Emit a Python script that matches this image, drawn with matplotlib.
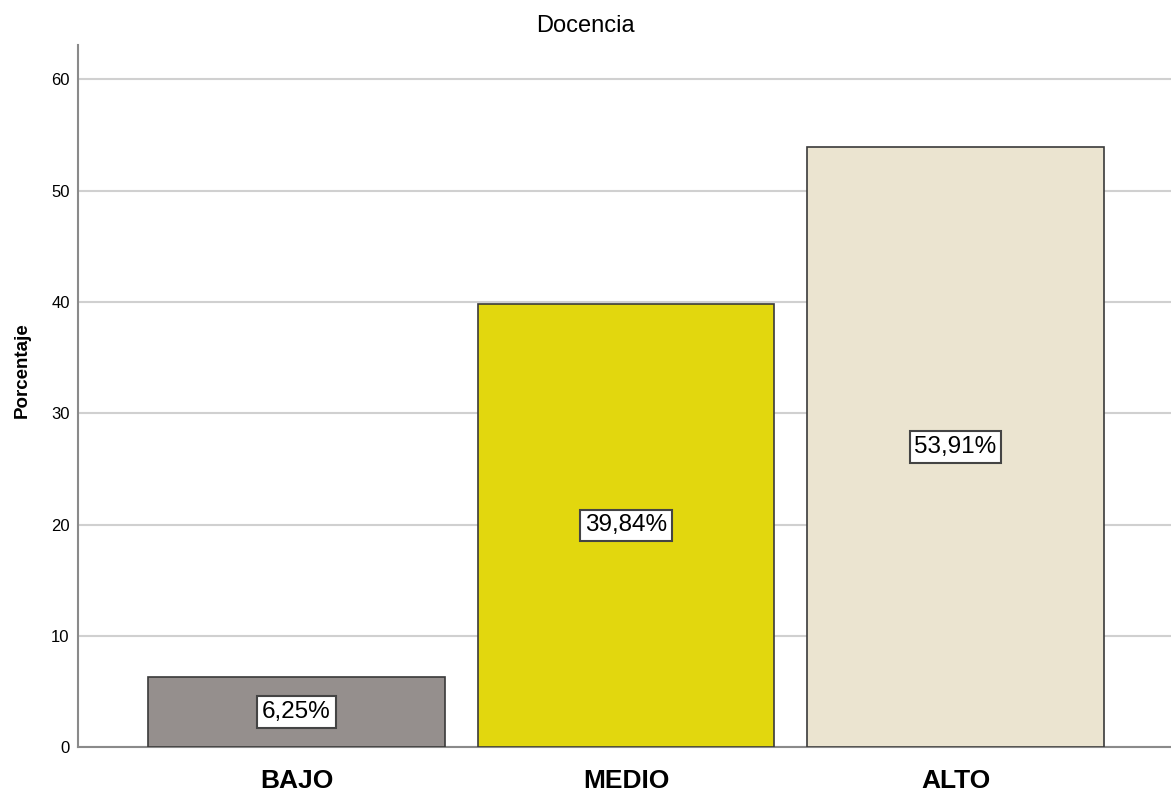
import matplotlib.pyplot as plt

categories = ["BAJO", "MEDIO", "ALTO"]
values = [6.25, 39.84, 53.91]
labels = ["6,25%", "39,84%", "53,91%"]
colors = ["#958f8d", "#e2d70e", "#ebe4d0"]

plt.rcParams["font.family"] = ["Liberation Sans", "DejaVu Sans"]

fig = plt.figure(figsize=(11.71, 7.92), dpi=100)
ax = fig.add_axes([0.0666, 0.0568, 0.9334, 0.8864])

x = range(len(categories))
bars = ax.bar(x, values, width=0.9, color=colors, edgecolor="#3a3a3a", linewidth=1.2, zorder=3)

for xi, v, lab in zip(x, values, labels):
    ax.text(xi, v / 2, lab, ha="center", va="center", fontsize=17.5, zorder=4,
            bbox=dict(boxstyle="square,pad=0.2", facecolor="white", edgecolor="#444444", linewidth=1.5))

ax.set_xlim(-0.663, 2.654)
ax.set_ylim(0, 63.1)
ax.set_yticks([0, 10, 20, 30, 40, 50, 60])
ax.set_xticks(list(x))
ax.set_xticklabels(categories, fontsize=19, fontweight="bold")
ax.tick_params(axis="y", labelsize=12, length=0, pad=6)
ax.tick_params(axis="x", length=0, pad=16)
ax.yaxis.grid(True, color="#d0d0d0", linewidth=1.5, zorder=0)

for s in ["top", "right"]:
    ax.spines[s].set_visible(False)
for s in ["left", "bottom"]:
    ax.spines[s].set_color("#8a8a8a")
    ax.spines[s].set_linewidth(1.5)

ax.set_ylabel("Porcentaje", fontsize=13.5, fontweight="bold")
ax.yaxis.set_label_coords(-0.043, 0.537)
ax.set_title("Docencia", fontsize=17, x=0.464, pad=9)

fig.savefig("out.png", dpi=100)
